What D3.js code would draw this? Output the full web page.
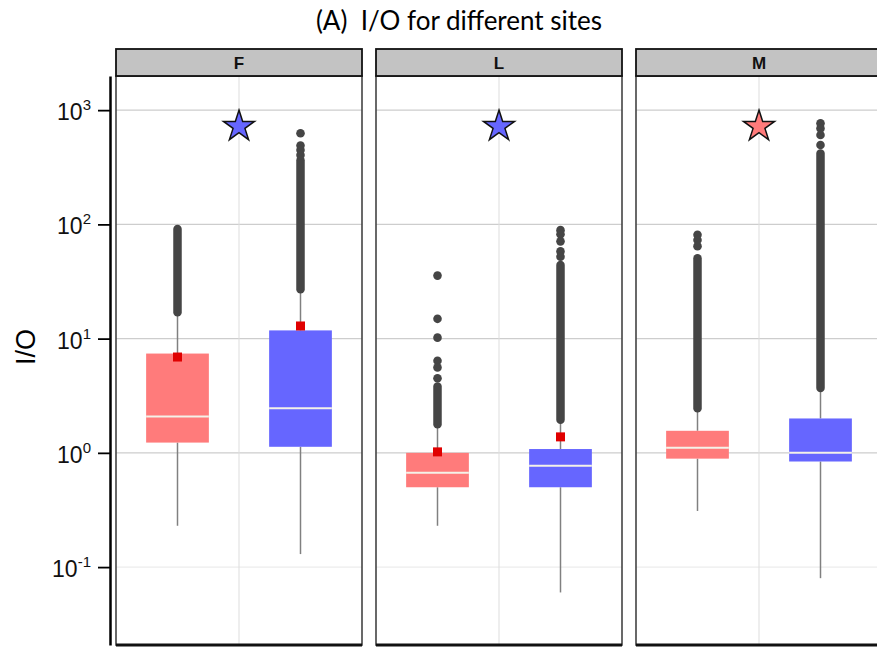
<!DOCTYPE html>
<html>
<head>
<meta charset="utf-8">
<script src="https://cdn.jsdelivr.net/npm/d3@7"></script>
<style>
  body { margin: 0; background: #fff; }
  svg { display: block; }
</style>
</head>
<body>
<script>
var width = 877,
    height = 648;

// sites (facets) and the two groups inside each
var sites = ["F", "L", "M"];
var groups = ["g1", "g2"];
var groupColors = ["#ff7b7b", "#6666ff"];

// box statistics, [site][group]
var q1 = [[1.23, 1.13], [0.50, 0.50], [0.89, 0.84]];
var median = [[2.08, 2.46], [0.67, 0.77], [1.11, 1.0]];
var q3 = [[7.4, 11.8], [1.0, 1.08], [1.56, 2.0]];
var whiskerLow = [[0.23, 0.13], [0.23, 0.06], [0.31, 0.08]];
var whiskerHigh = [[16, 26], [1.72, 1.9], [2.4, 3.6]];
var means = [[6.9, 12.9], [1.02, 1.38], [null, null]];

// outliers: dense runs [low, high] and single points
var outlierRuns = [[[17, 91], [27, 365]], [[1.78, 3.8], [1.95, 44]], [[2.46, 50.6], [3.7, 418]]];
var outlierPoints = [[[], [627, 490, 447, 405]],
                     [[35.6, 14.9, 10.2, 6.4, 5.6, 4.5], [89, 82, 71, 58, 52]],
                     [[81, 73, 64.5], [767, 692, 605, 495]]];

// significance stars
var starGroup = ["g2", "g2", "g1"];
var starValue = [720, 720, 720];

var majorTicks = [0.1, 1, 10, 100, 1000];
var majorExp = ["-1", "0", "1", "2", "3"];

var svg = d3.select("body").append("svg")
    .attr("width", width)
    .attr("height", height);

var y = d3.scaleLog()
    .domain([0.0208, 1990])
    .range([645, 76]);

var x0 = d3.scaleBand()
    .domain(sites)
    .range([116, 882])
    .paddingInner(14 / 260)
    .paddingOuter(0);

var x1 = d3.scaleBand()
    .domain(groups)
    .range([0, x0.bandwidth()]);

var color = d3.scaleOrdinal().domain(groups).range(groupColors);

// title
svg.append("text")
    .attr("x", 459)
    .attr("y", 30)
    .attr("text-anchor", "middle")
    .style("font-family", "Lato, 'Open Sans', sans-serif")
    .style("font-size", "26px")
    .style("white-space", "pre")
    .text("(A)  I/O for different sites");

// y label
svg.append("text")
    .attr("transform", "translate(35,347) rotate(-90)")
    .attr("text-anchor", "middle")
    .style("font-family", "'Liberation Sans', Arial, sans-serif")
    .style("font-size", "27px")
    .text("I/O");

// panels
var panel = svg.selectAll(".panel")
    .data(sites)
  .enter().append("g")
    .attr("class", "panel")
    .attr("transform", function(d) { return "translate(" + x0(d) + ",0)"; });

var bw = x0.bandwidth();

panel.append("rect")
    .attr("x", 0).attr("y", 76)
    .attr("width", bw).attr("height", 645 - 76)
    .attr("fill", "#fff");

panel.selectAll(".hgrid")
    .data(majorTicks)
  .enter().append("line")
    .attr("x1", 0).attr("x2", bw)
    .attr("y1", function(d) { return y(d); })
    .attr("y2", function(d) { return y(d); })
    .attr("stroke", function(d) { return d < 1 ? "#ececec" : "#cdcdcd"; })
    .attr("stroke-width", 1.2);

panel.append("line")
    .attr("x1", bw / 2).attr("x2", bw / 2)
    .attr("y1", 76).attr("y2", 645)
    .attr("stroke", "#dddddd")
    .attr("stroke-width", 1);

// boxes
var boxW = x1.bandwidth() * 0.51;

panel.each(function(site, si) {
  var g = d3.select(this);
  groups.forEach(function(grp, gi) {
    var cx = x1(grp) + x1.bandwidth() / 2;

    g.append("line")
        .attr("x1", cx).attr("x2", cx)
        .attr("y1", y(whiskerLow[si][gi])).attr("y2", y(q1[si][gi]))
        .attr("stroke", "#808080").attr("stroke-width", 1.5);
    g.append("line")
        .attr("x1", cx).attr("x2", cx)
        .attr("y1", y(q3[si][gi])).attr("y2", y(whiskerHigh[si][gi]))
        .attr("stroke", "#808080").attr("stroke-width", 1.5);

    g.append("rect")
        .attr("x", cx - boxW / 2)
        .attr("y", y(q3[si][gi]))
        .attr("width", boxW)
        .attr("height", y(q1[si][gi]) - y(q3[si][gi]))
        .attr("fill", color(grp));

    g.append("line")
        .attr("x1", cx - boxW / 2).attr("x2", cx + boxW / 2)
        .attr("y1", y(median[si][gi])).attr("y2", y(median[si][gi]))
        .attr("stroke", "#f4f2e8").attr("stroke-width", 2);

    if (means[si][gi] != null) {
      g.append("rect")
          .attr("x", cx - 4.5).attr("y", y(means[si][gi]) - 4.5)
          .attr("width", 9).attr("height", 9)
          .attr("fill", "#e00000");
    }

    var run = outlierRuns[si][gi];
    g.append("line")
        .attr("x1", cx).attr("x2", cx)
        .attr("y1", y(run[0])).attr("y2", y(run[1]))
        .attr("stroke", "#454545")
        .attr("stroke-width", 8.5)
        .attr("stroke-linecap", "round");

    g.selectAll(".pt" + gi)
        .data(outlierPoints[si][gi])
      .enter().append("circle")
        .attr("cx", cx)
        .attr("cy", function(d) { return y(d); })
        .attr("r", 4.3)
        .attr("fill", "#454545");
  });

  g.append("path")
      .attr("transform", "translate(" + bw / 2 + "," + y(starValue[si]) + ")")
      .attr("d", d3.symbol().type(d3.symbolStar).size(300)())
      .attr("fill", color(starGroup[si]))
      .attr("stroke", "#111")
      .attr("stroke-width", 1.5)
      .attr("stroke-linejoin", "miter");
});

// panel border
panel.append("rect")
    .attr("x", 0).attr("y", 76)
    .attr("width", bw).attr("height", 645 - 76)
    .attr("fill", "none")
    .attr("stroke", "#444")
    .attr("stroke-width", 1.6);

panel.append("line")
    .attr("x1", 0).attr("x2", bw)
    .attr("y1", 645).attr("y2", 645)
    .attr("stroke", "#111")
    .attr("stroke-width", 3);

// strips
panel.append("rect")
    .attr("x", 0).attr("y", 49)
    .attr("width", bw).attr("height", 27)
    .attr("fill", "#c3c3c3")
    .attr("stroke", "#111")
    .attr("stroke-width", 1.8);

panel.append("text")
    .attr("x", bw / 2).attr("y", 69)
    .attr("text-anchor", "middle")
    .attr("font-family", "'Liberation Sans', Arial, sans-serif")
    .attr("font-size", 17)
    .attr("font-weight", "bold")
    .attr("fill", "#111")
    .text(function(d) { return d; });

// y axis
var minorTicks = y.ticks().filter(function(t) {
  return majorTicks.indexOf(t) < 0;
});

var axisG = svg.append("g")
    .attr("transform", "translate(110,0)");

axisG.call(d3.axisLeft(y).tickValues(minorTicks).tickSize(8).tickSizeOuter(0).tickFormat(""));
axisG.call(d3.axisLeft(y).tickValues(majorTicks).tickSize(12).tickSizeOuter(0).tickFormat(""));

axisG.selectAll(".domain")
    .attr("stroke", "#000")
    .attr("stroke-width", 2.5);
axisG.selectAll(".tick line")
    .attr("stroke", "#000")
    .attr("stroke-width", 1.8);

var labels = svg.selectAll(".ylab")
    .data(majorTicks)
  .enter().append("text")
    .attr("class", "ylab")
    .attr("x", 91)
    .attr("y", function(d) { return y(d) + 10; })
    .attr("text-anchor", "end")
    .style("font-family", "'Liberation Sans', Arial, sans-serif")
    .style("fill", "#111");

labels.append("tspan")
    .style("font-size", "23px")
    .text("10");
labels.append("tspan")
    .attr("dy", -10)
    .style("font-size", "15px")
    .text(function(d, i) { return majorExp[i]; });
</script>
</body>
</html>
